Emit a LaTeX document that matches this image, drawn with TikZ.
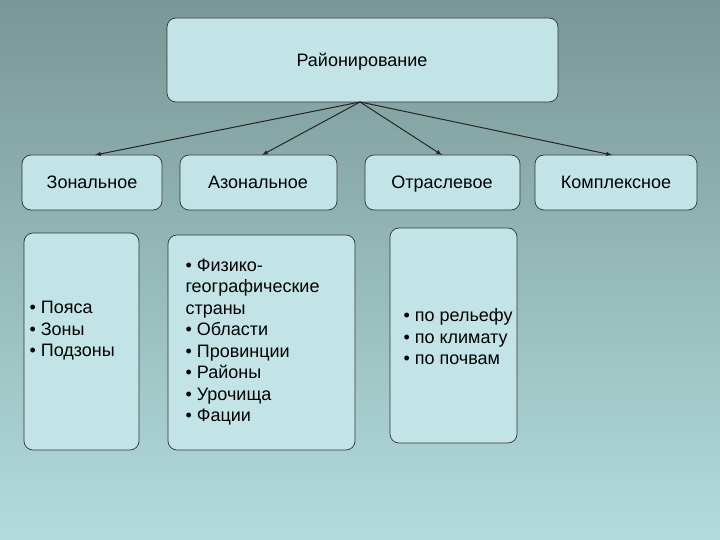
\documentclass[tikz,border=0pt]{standalone}
\usepackage{fontspec}
\setmainfont{Liberation Sans}
\begin{document}
\begin{tikzpicture}[x=1pt,y=-1pt,
  bx/.style={draw=black!80,line width=0.7pt,fill=boxc,rounded corners=9pt,inner sep=0pt},
  arr/.style={-latex,line width=1pt,black!85},
  hd/.style={font=\fontsize{18}{21}\selectfont,anchor=base},
  lst/.style={align=left,anchor=west,font=\fontsize{18}{21.5}\selectfont}]
\definecolor{boxc}{HTML}{C3E4E6}
\definecolor{bgtop}{HTML}{7A9696}
\definecolor{bgbot}{HTML}{B2DCDC}
\shade[top color=bgtop,bottom color=bgbot] (0,0) rectangle (720,540);
\useasboundingbox (0,0) rectangle (720,540);
\path[bx] (167,18) rectangle (558,102);
\node[hd] (top) at (362,67) {Районирование};
\coordinate (src) at (360,102);
\path[bx] (22,155) rectangle (162,210); \coordinate (z) at (95,155);
\node[hd] at (92,189) {Зональное};
\path[bx] (180,155) rectangle (337,210); \coordinate (a) at (262,155);
\node[hd] at (258,189) {Азональное};
\path[bx] (365,155) rectangle (520,210); \coordinate (o) at (442,155);
\node[hd] at (442,189) {Отраслевое};
\path[bx] (535,155) rectangle (697,210); \coordinate (k) at (612,155);
\node[hd] at (616,189) {Комплексное};
\draw[arr] (src) -- (z);
\draw[arr] (src) -- (a);
\draw[arr] (src) -- (o);
\draw[arr] (src) -- (k);
\path[bx] (24,233) rectangle (139,450);
\node[lst] (l1) at (26,331) {• Пояса\\• Зоны\\• Подзоны};
\path[bx] (168,235) rectangle (355,450);
\node[lst] (l2) at (182,342) {• Физико-\\географические\\страны\\• Области\\• Провинции\\• Районы\\• Урочища\\• Фации};
\path[bx] (390,228) rectangle (517,443);
\node[lst] (l3) at (400,337) {• по рельефу\\• по климату\\• по почвам};
\end{tikzpicture}
\end{document}
